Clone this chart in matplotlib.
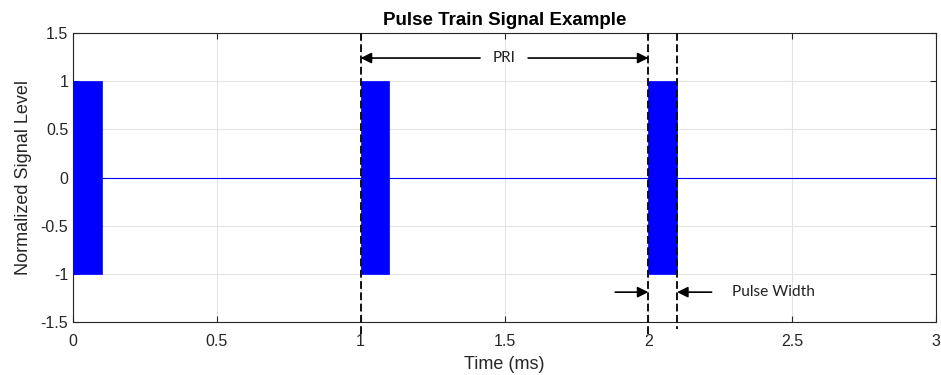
import numpy as np
import matplotlib.pyplot as plt

# pulse train parameters (time in ms)
pulse_start = [0.0, 1.0, 2.0]
pulse_width = 0.1
amplitude = 1.0
t_end = 3.0

# dashed guide lines and where they stop below the axes
guide_x = [1.0, 2.0, 2.1]
guide_bottom = [-1.62, -1.62, -1.57]

xticks = [0, 0.5, 1, 1.5, 2, 2.5, 3]
xticklabels = ['0', '0.5', '1', '1.5', '2', '2.5', '3']
yticks = [-1.5, -1, -0.5, 0, 0.5, 1, 1.5]
yticklabels = ['-1.5', '-1', '-0.5', '0', '0.5', '1', '1.5']

plt.rcParams['font.family'] = ['Liberation Sans', 'DejaVu Sans']
axcol = '#262626'

fig = plt.figure(figsize=(9.41, 3.75), dpi=100)
ax = fig.add_axes([0.0776, 0.1413, 0.9171, 0.7707])

# baseline, then the pulses on top
ax.plot([0, t_end], [0, 0], color='#0000ff', lw=0.8, zorder=2)
for s in pulse_start:
    ax.fill_between([s, s + pulse_width], -amplitude, amplitude,
                    color='#0000ff', lw=0.5, zorder=3)

for x, yb in zip(guide_x, guide_bottom):
    ax.plot([x, x], [1.5, yb], color='#111111', lw=1.4, dashes=(4, 1.8),
            clip_on=False, zorder=4)

# PRI annotation
arr = dict(arrowstyle='-|>', color='black', lw=1.2, mutation_scale=16,
           shrinkA=0, shrinkB=0)
ax.annotate('', xy=(1.0, 1.24), xytext=(1.415, 1.24), arrowprops=arr, zorder=5)
ax.annotate('', xy=(2.0, 1.24), xytext=(1.582, 1.24), arrowprops=arr, zorder=5)
ax.text(1.5, 1.24, 'PRI', ha='center', va='center', fontsize=11,
        family=['Lato', 'DejaVu Sans'], color='#222222')

# pulse width annotation
ax.annotate('', xy=(2.0, -1.19), xytext=(1.885, -1.19), arrowprops=arr, zorder=5)
ax.annotate('', xy=(2.1, -1.19), xytext=(2.22, -1.19), arrowprops=arr, zorder=5)
ax.text(2.29, -1.19, 'Pulse Width', ha='left', va='center', fontsize=11.2,
        family=['Lato', 'DejaVu Sans'], color='#222222')

ax.set_xlim(0, t_end)
ax.set_ylim(-1.5, 1.5)
ax.set_xticks(xticks)
ax.set_xticklabels(xticklabels)
ax.set_yticks(yticks)
ax.set_yticklabels(yticklabels)
ax.grid(True, color='#e3e3e3', lw=0.8)
ax.set_axisbelow(True)
ax.tick_params(direction='in', top=True, right=True, length=4,
               colors=axcol, labelsize=11.5, labelcolor=axcol)
ax.tick_params(axis='x', pad=8.5)
for sp in ax.spines.values():
    sp.set_color(axcol)
    sp.set_linewidth(0.8)

ax.set_xlabel('Time (ms)', fontsize=13, color=axcol, labelpad=5)
ax.set_ylabel('Normalized Signal Level', fontsize=13, color=axcol, labelpad=6)
ax.set_title('Pulse Train Signal Example', fontsize=13.5, fontweight='bold',
             color='black', pad=6)

fig.savefig('out.png', dpi=100)
